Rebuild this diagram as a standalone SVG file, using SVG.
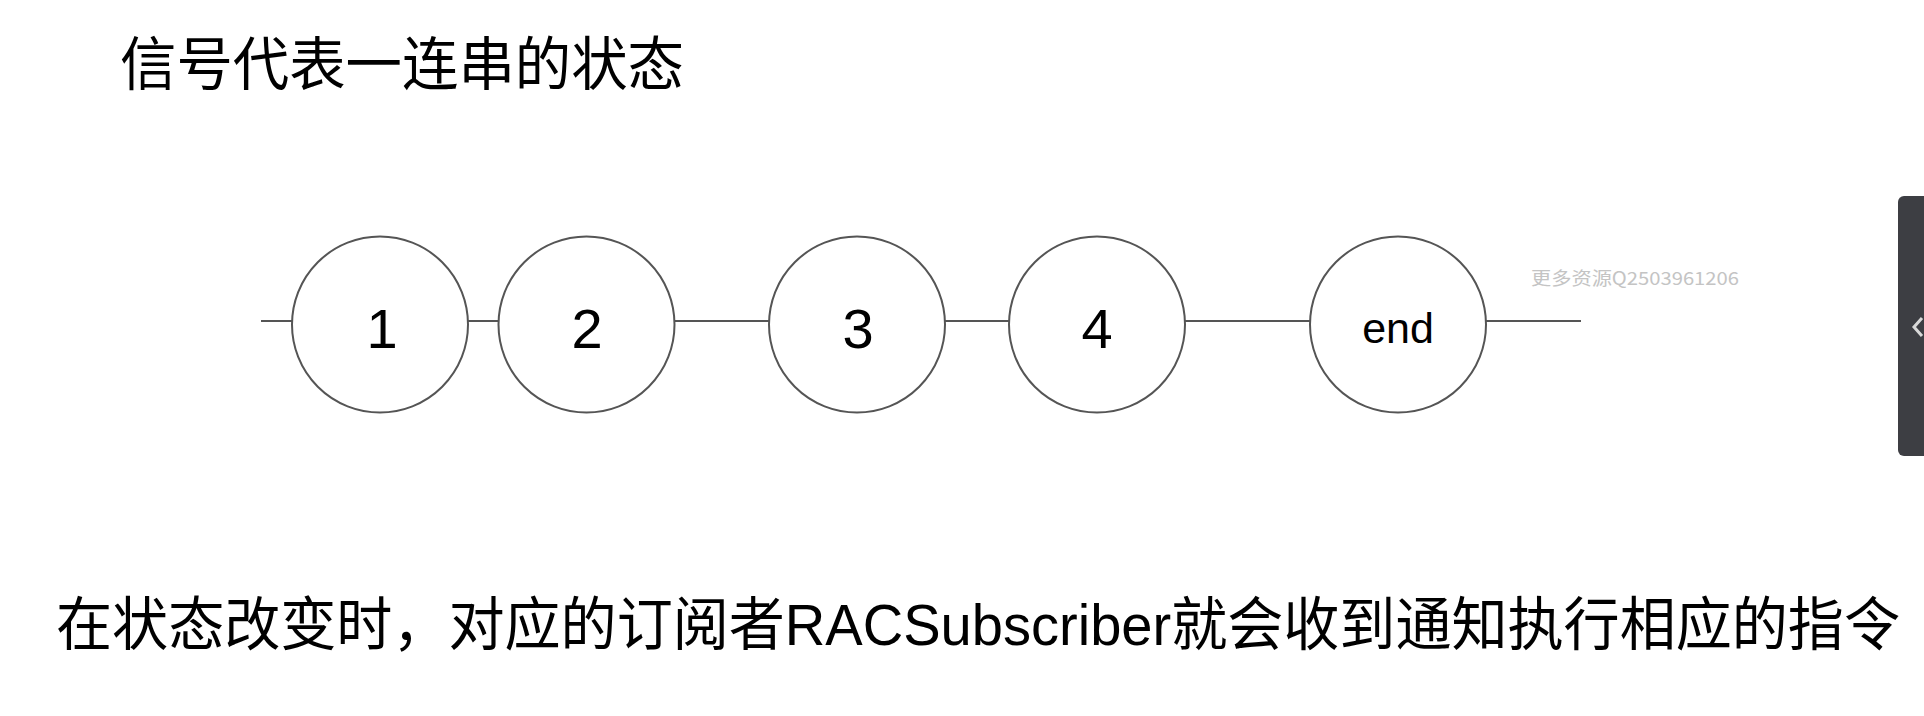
<svg xmlns="http://www.w3.org/2000/svg" width="1924" height="716" viewBox="0 0 1924 716">
<style>
.cjk{font-family:"Liberation Sans","Noto Sans CJK SC",sans-serif;fill:#000;}
.node circle{fill:#fff;stroke:#555;stroke-width:2;}
.node text{font-family:"Liberation Sans",Arial,sans-serif;fill:#000;text-anchor:middle;}
.conn line{stroke:#555;stroke-width:2;}
</style>
<rect width="1924" height="716" fill="#fff"/>
<text id="title" class="cjk" x="120" y="85" font-size="58" textLength="564" lengthAdjust="spacingAndGlyphs">信号代表一连串的状态</text>
<g id="connectors" class="conn">
<line x1="261" y1="321" x2="292" y2="321"/>
<line x1="468" y1="321" x2="498.5" y2="321"/>
<line x1="674.5" y1="321" x2="769" y2="321"/>
<line x1="945" y1="321" x2="1009" y2="321"/>
<line x1="1185" y1="321" x2="1310" y2="321"/>
<line x1="1486" y1="321" x2="1581" y2="321"/>
</g>
<g id="n1" class="node"><circle cx="380" cy="324.5" r="88"/><text x="382" y="348" font-size="56">1</text></g>
<g id="n2" class="node"><circle cx="586.5" cy="324.5" r="88"/><text x="587" y="348" font-size="56">2</text></g>
<g id="n3" class="node"><circle cx="857" cy="324.5" r="88"/><text x="858" y="348" font-size="56">3</text></g>
<g id="n4" class="node"><circle cx="1097" cy="324.5" r="88"/><text x="1097" y="348" font-size="56">4</text></g>
<g id="nend" class="node"><circle cx="1398" cy="324.5" r="88"/><text x="1398" y="343" font-size="43">end</text></g>
<text id="watermark" x="1531" y="285" font-family="Noto Sans CJK SC, sans-serif" font-size="18" fill="#c4c4c4" textLength="208" lengthAdjust="spacingAndGlyphs">更多资源Q2503961206</text>
<text id="caption" class="cjk" transform="translate(56,645) scale(1,1.115)" x="0" y="0" font-size="52" textLength="1844" lengthAdjust="spacingAndGlyphs">在状态改变时，对应的订阅者RACSubscriber就会收到通知执行相应的指令</text>
<g id="sidepanel">
<rect x="1898" y="196" width="40" height="260" rx="6" fill="#3d3e43"/>
<polyline points="1922,318 1914,327 1922,336" fill="none" stroke="#d8d8d8" stroke-width="3"/>
</g>
</svg>
